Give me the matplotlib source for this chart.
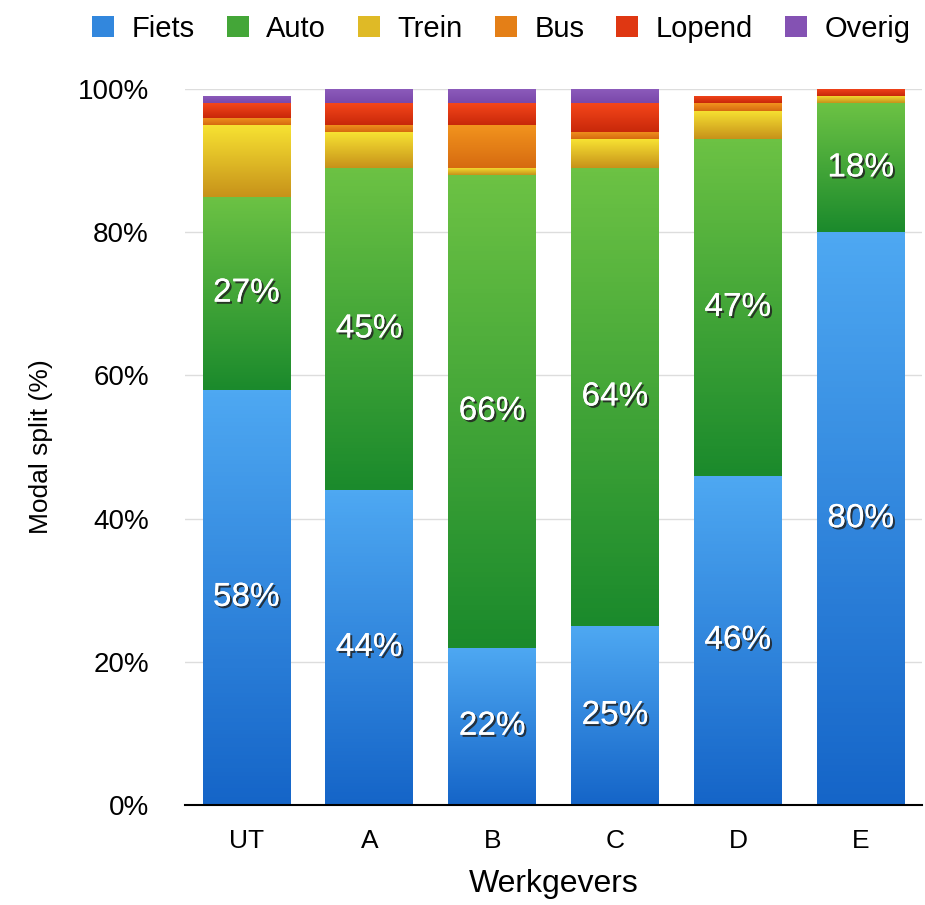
import matplotlib.pyplot as plt
import matplotlib.patheffects as pe
from matplotlib.colors import LinearSegmentedColormap
import numpy as np

plt.rcParams['font.family'] = ['Liberation Sans', 'DejaVu Sans']

werkgevers = ['UT', 'A', 'B', 'C', 'D', 'E']
fiets = [58, 44, 22, 25, 46, 80]
auto = [27, 45, 66, 64, 47, 18]
trein = [10, 5, 1, 4, 4, 1]
bus = [1, 1, 6, 1, 1, 0]
lopend = [2, 3, 3, 4, 1, 1]
overig = [1, 2, 2, 2, 0, 0]

series = [('Fiets', fiets), ('Auto', auto), ('Trein', trein),
          ('Bus', bus), ('Lopend', lopend), ('Overig', overig)]
# (top colour, bottom colour) per mode
kleuren = {
    'Fiets': ('#4ea8f2', '#1565c8'),
    'Auto': ('#6cc244', '#1b8a2c'),
    'Trein': ('#f7e232', '#c7921a'),
    'Bus': ('#f2941e', '#d66a10'),
    'Lopend': ('#f5461a', '#c8280a'),
    'Overig': ('#8d5cbc', '#7a48aa'),
}
labelled = ['Fiets', 'Auto']

fig = plt.figure(figsize=(9.25, 9.05), dpi=100)
ax = fig.add_axes([0.2, 0.1105, 0.797, 0.791])

x = np.arange(len(werkgevers))
bottom = np.zeros(len(werkgevers))
handles = []
for naam, vals in series:
    top_c, bot_c = kleuren[naam]
    cmap = LinearSegmentedColormap.from_list(naam, [bot_c, top_c])
    bars = ax.bar(x, vals, 0.715, bottom=bottom, color=top_c, linewidth=0)
    for b in bars:
        if b.get_height() <= 0:
            continue
        x0, y0 = b.get_x(), b.get_y()
        grad = np.linspace(0, 1, 100).reshape(-1, 1)
        im = ax.imshow(grad, cmap=cmap, origin='lower', aspect='auto',
                       extent=[x0, x0 + b.get_width(), y0, y0 + b.get_height()],
                       zorder=2)
        im.set_clip_path(b)
        b.set_facecolor('none')
    if naam in labelled:
        for xi, v, bo in zip(x, vals, bottom):
            ax.text(xi, bo + v / 2, f'{v}%', ha='center', va='center',
                    color='white', fontsize=24, zorder=5,
                    path_effects=[pe.withSimplePatchShadow(offset=(1.5, -1.5), shadow_rgbFace='#222222', alpha=0.85),
                                  pe.Normal()])
    handles.append(plt.Rectangle((0, 0), 1, 1, facecolor=cmap(0.5)))
    bottom += np.array(vals)

ax.set_xlim(-0.5, 5.5)
ax.set_ylim(0, 100)
ax.set_yticks([0, 20, 40, 60, 80, 100])
ax.set_yticklabels([f'{v}%' for v in [0, 20, 40, 60, 80, 100]], fontsize=20)
ax.set_xticks(x)
ax.set_xticklabels(werkgevers, fontsize=19)
ax.tick_params(axis='y', length=0, pad=26)
ax.tick_params(axis='x', length=0, pad=17)
ax.yaxis.grid(True, color='#dddddd', linewidth=1)
ax.set_axisbelow(True)
for s in ['left', 'right', 'top']:
    ax.spines[s].set_visible(False)
ax.spines['bottom'].set_linewidth(1.5)
ax.set_ylabel('Modal split (%)', fontsize=19, labelpad=18)
ax.set_xlabel('Werkgevers', fontsize=23, labelpad=12)

fig.legend(handles, [s[0] for s in series], loc='upper right', ncol=6,
           bbox_to_anchor=(1.0, 1.0), frameon=False, fontsize=21,
           handlelength=0.75, handleheight=0.75, handletextpad=0.6,
           columnspacing=1.1, borderaxespad=0.1)

fig.savefig('out.png', dpi=100)
